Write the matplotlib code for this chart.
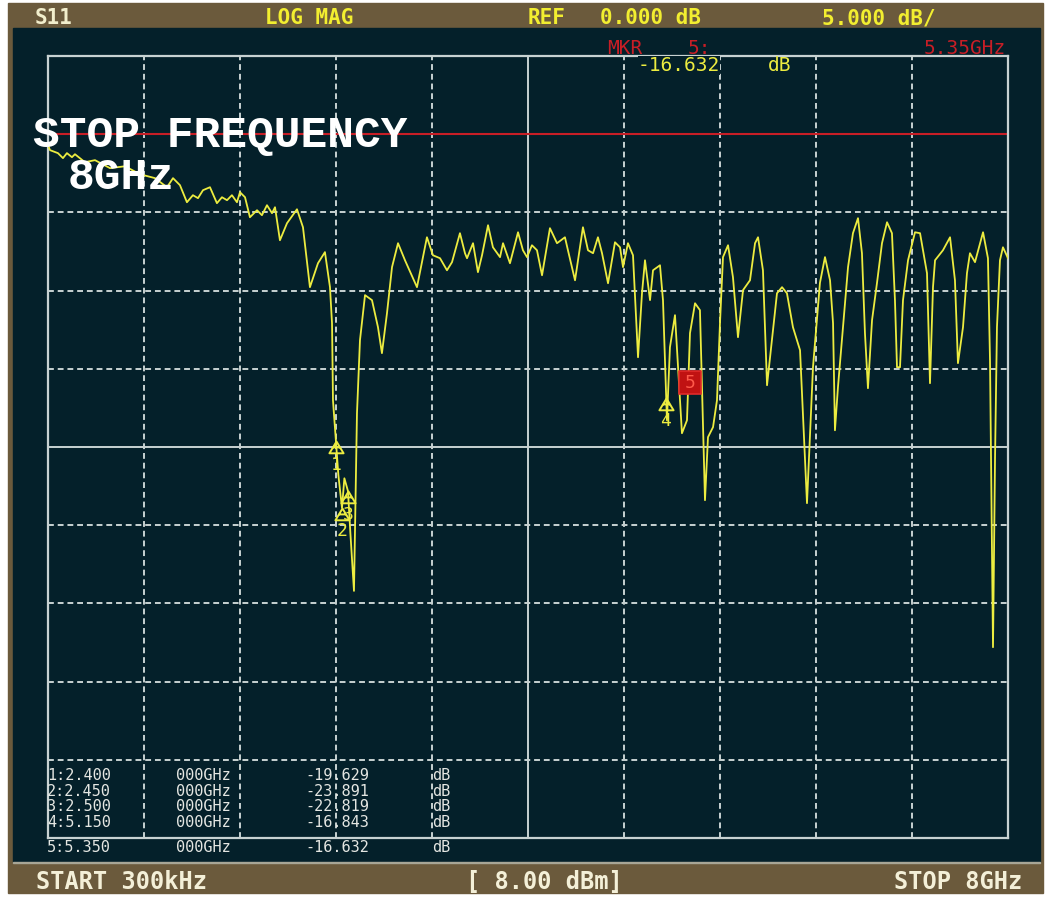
import matplotlib.pyplot as plt
from matplotlib.patches import Rectangle
from matplotlib.path import Path
import numpy as np

W, H = 1051, 897

# S11 trace (GHz, dB)
freq_ghz = [0.0003, 0.017, 0.083, 0.125, 0.158, 0.2, 0.225, 0.308, 0.392, 0.517,
            0.642, 0.767, 0.892, 0.992, 1.042, 1.1, 1.158, 1.208, 1.25, 1.292,
            1.35, 1.408, 1.45, 1.492, 1.533, 1.575, 1.6, 1.642, 1.683, 1.742,
            1.783, 1.825, 1.867, 1.892, 1.933, 1.992, 2.075, 2.125, 2.183, 2.25,
            2.308, 2.35, 2.367, 2.375, 2.4, 2.42, 2.45, 2.47, 2.5, 2.52,
            2.55, 2.575, 2.6, 2.642, 2.7, 2.75, 2.783, 2.825, 2.867, 2.917,
            2.975, 3.075, 3.158, 3.208, 3.267, 3.325, 3.367, 3.433, 3.475, 3.492,
            3.542, 3.583, 3.617, 3.667, 3.708, 3.767, 3.792, 3.85, 3.917, 3.958,
            3.992, 4.033, 4.075, 4.117, 4.183, 4.242, 4.308, 4.333, 4.392, 4.458,
            4.5, 4.542, 4.583, 4.617, 4.667, 4.725, 4.767, 4.792, 4.833, 4.875,
            4.917, 4.95, 4.975, 5.017, 5.042, 5.1, 5.125, 5.158, 5.183, 5.225,
            5.283, 5.325, 5.35, 5.392, 5.433, 5.475, 5.5, 5.542, 5.575, 5.6,
            5.625, 5.667, 5.708, 5.75, 5.792, 5.85, 5.892, 5.917, 5.958, 5.992,
            6.075, 6.117, 6.158, 6.208, 6.267, 6.325, 6.375, 6.433, 6.475, 6.517,
            6.542, 6.558, 6.583, 6.625, 6.667, 6.708, 6.75, 6.783, 6.808, 6.833,
            6.867, 6.908, 6.95, 6.992, 7.033, 7.058, 7.075, 7.1, 7.125, 7.167,
            7.225, 7.267, 7.325, 7.35, 7.375, 7.392, 7.458, 7.517, 7.558, 7.583,
            7.625, 7.658, 7.683, 7.725, 7.792, 7.833, 7.85, 7.867, 7.875, 7.892,
            7.908, 7.933, 7.958, 8.0]
s11_db = [-0.70, -1.02, -1.21, -1.53, -1.21, -1.47, -1.28, -1.79, -1.66, -2.17,
          -2.05, -2.56, -2.81, -3.39, -2.81, -3.26, -4.35, -3.90, -4.09, -3.58,
          -3.39, -4.41, -4.03, -4.22, -3.90, -4.35, -3.71, -4.03, -5.31, -4.86,
          -5.18, -4.54, -5.05, -4.67, -6.78, -5.69, -4.80, -5.95, -9.78, -8.25,
          -7.54, -9.78, -12.08, -17.01, -19.63, -21.8, -23.89, -22.0, -22.82, -25.5,
          -29.2, -17.84, -13.17, -10.29, -10.61, -12.34, -14.00, -11.45, -8.50, -6.97,
          -8.06, -9.78, -6.59, -7.74, -7.93, -8.70, -8.18, -6.33, -7.61, -7.93,
          -6.97, -8.82, -7.74, -5.82, -7.23, -7.86, -6.97, -8.25, -6.27, -7.42,
          -7.86, -7.10, -7.42, -9.02, -6.01, -6.97, -6.59, -7.42, -9.34, -5.95,
          -7.42, -7.61, -6.59, -7.61, -9.53, -6.91, -7.23, -8.50, -6.97, -7.74,
          -14.26, -10.17, -8.06, -10.61, -8.70, -8.38, -10.61, -18.29, -13.62, -11.57,
          -19.12, -18.29, -12.72, -10.81, -11.25, -23.40, -19.37, -18.73, -17.01, -12.08,
          -7.86, -7.10, -9.14, -12.98, -9.97, -9.34, -6.97, -6.59, -8.70, -16.05,
          -10.17, -9.78, -10.17, -12.34, -13.81, -23.59, -14.90, -9.5, -7.86, -9.34,
          -12.08, -18.93, -16.18, -12.34, -8.50, -6.33, -5.37, -7.61, -12.72, -16.24,
          -11.89, -9.53, -6.97, -5.63, -6.33, -10.61, -14.90, -14.90, -10.61, -8.06,
          -6.27, -6.33, -8.89, -15.92, -9.78, -8.06, -7.42, -6.59, -9.34, -14.64,
          -12.34, -8.89, -7.61, -8.18, -6.27, -7.93, -14.45, -26.60, -32.80, -20.65,
          -12.34, -8.06, -7.23, -7.93]

# markers
mkr_freq = [2.400, 2.450, 2.500, 5.150, 5.350]
mkr_db = [-19.629, -23.891, -22.819, -16.843, -16.632]

# instrument settings
ref_db = 0.0
db_per_div = 5.0
ref_pos_div = 9          # reference line 9 divisions up from bottom
start_ghz = 0.0003
stop_ghz = 8.0

BROWN = '#6b5a3c'
SCREEN = '#04202a'
GRID = '#c8d2d2'
YEL = '#ecec40'
HDR = '#f2ee30'
RED = '#c81e26'
WHITE = '#e4e6e2'


def fx(x):
    return x / W


def fy(y):
    return 1 - y / H


fig = plt.figure(figsize=(W / 100, H / 100), dpi=100, facecolor='white')
fig.patches.append(Rectangle((fx(8), fy(893)), (1043 - 8) / W, (893 - 3) / H,
                             transform=fig.transFigure, color=BROWN, zorder=-3))
fig.patches.append(Rectangle((fx(13), fy(862)), (1040 - 13) / W, (862 - 28) / H,
                             transform=fig.transFigure, color=SCREEN, zorder=-2))
fig.patches.append(Rectangle((fx(13), fy(863)), (1040 - 13) / W, 1.5 / H,
                             transform=fig.transFigure, color='#a8a696', zorder=-1))

# graticule
ax = fig.add_axes([fx(48), fy(838), 960 / W, 782 / H])
ax.set_facecolor('none')
ax.set_xlim(start_ghz, stop_ghz)
bottom = ref_db - ref_pos_div * db_per_div
ax.set_ylim(bottom, bottom + 10 * db_per_div)
ax.tick_params(length=0, labelbottom=False, labelleft=False)
for s in ax.spines.values():
    s.set_color(GRID)
    s.set_linewidth(1.6)

xs = np.linspace(start_ghz, stop_ghz, 11)
ys = np.linspace(bottom, bottom + 10 * db_per_div, 11)
for i in range(1, 10):
    ls = '-' if i == 5 else (0, (3, 2))
    ax.axvline(xs[i], color=GRID, lw=1.4, ls=ls, zorder=1)
    ax.axhline(ys[i], color=GRID, lw=1.4, ls=ls, zorder=1)

ax.axhline(ref_db, color=RED, lw=1.5, zorder=2)
ax.plot(freq_ghz, s11_db, color=YEL, lw=1.3, zorder=3)

# marker symbols
tri = Path([(0, 0), (-0.6, -1), (0.6, -1), (0, 0), (-0.3, -0.5), (0.3, -0.5)],
           [Path.MOVETO, Path.LINETO, Path.LINETO, Path.CLOSEPOLY, Path.MOVETO, Path.LINETO])
box = Path([(-0.5, 0), (0.5, 0), (0.5, 1), (-0.5, 1), (-0.5, 0)],
           [Path.MOVETO, Path.LINETO, Path.LINETO, Path.LINETO, Path.CLOSEPOLY])
for i in range(4):
    ax.plot(mkr_freq[i], mkr_db[i], marker=tri, ms=17, mfc='none', mec=YEL, mew=1.4, zorder=5)
    ax.annotate(str(i + 1), (mkr_freq[i], mkr_db[i]), xytext=(0, -17), textcoords='offset points',
                ha='center', va='center', color=YEL, fontsize=13, family='DejaVu Sans Mono', zorder=5)
ax.plot(mkr_freq[4], mkr_db[4], marker=box, ms=33, mfc='#c01212', mec='#e02a2a', mew=1.2, zorder=6)
ax.annotate('5', (mkr_freq[4], mkr_db[4]), xytext=(0, 8.5), textcoords='offset points',
            ha='center', va='center', color='#ff5a4a', fontsize=13, family='DejaVu Sans Mono', zorder=7)

# header bar
hdr = dict(family='DejaVu Sans Mono', fontweight='bold', fontsize=15, va='baseline')
fig.text(fx(35), fy(24), 'S11', color='#f2eecc', **hdr)
fig.text(fx(265), fy(24), 'LOG MAG', color=HDR, **hdr)
fig.text(fx(528), fy(24), 'REF', color=HDR, **hdr)
fig.text(fx(600), fy(24), f'{ref_db:.3f} dB', color=HDR, **hdr)
fig.text(fx(822), fy(24), f'{db_per_div:.3f} dB/', color=HDR, **hdr)

# active marker readout
mono = dict(family='DejaVu Sans Mono', fontsize=14, va='baseline')
fig.text(fx(607), fy(54), 'MKR', color=RED, **mono)
fig.text(fx(688), fy(54), '5:', color=RED, **mono)
fig.text(fx(1006), fy(54), f'{mkr_freq[4]:.2f}GHz', color=RED, ha='right', **mono)
fig.text(fx(638), fy(71), f'{mkr_db[4]:.3f}', color=YEL,
         bbox=dict(fc=SCREEN, ec='none', pad=0), **mono)
fig.text(fx(768), fy(71), 'dB', color=YEL, **mono)

# overlay title
fig.text(fx(33), fy(147), 'STOP FREQUENCY', family='Liberation Mono', fontweight='bold',
         fontsize=32, color='white', va='baseline', zorder=10)
fig.text(fx(68), fy(189), '8GHz', family='Liberation Mono', fontweight='bold',
         fontsize=32, color='white', va='baseline', zorder=10)

# marker table
tbl = dict(family='DejaVu Sans Mono', fontsize=11, va='baseline', color=WHITE)
row_y = [780, 795.5, 811, 826.5, 852]
for i in range(5):
    fig.text(fx(47), fy(row_y[i]), f'{i + 1}:{mkr_freq[i]:.3f}', **tbl)
    fig.text(fx(176), fy(row_y[i]), '000GHz', **tbl)
    fig.text(fx(305), fy(row_y[i]), f'{mkr_db[i]:.3f}', **tbl)
    fig.text(fx(432), fy(row_y[i]), 'dB', **tbl)

# footer
ftr = dict(family='DejaVu Sans Mono', fontweight='bold', fontsize=17, va='baseline', color='#f4f0d8')
fig.text(fx(36), fy(889), 'START 300kHz', **ftr)
fig.text(fx(466), fy(889), '[ 8.00 dBm]', **ftr)
fig.text(fx(1022), fy(889), 'STOP 8GHz', ha='right', **ftr)

fig.savefig('out.png', dpi=100, facecolor=fig.get_facecolor())
